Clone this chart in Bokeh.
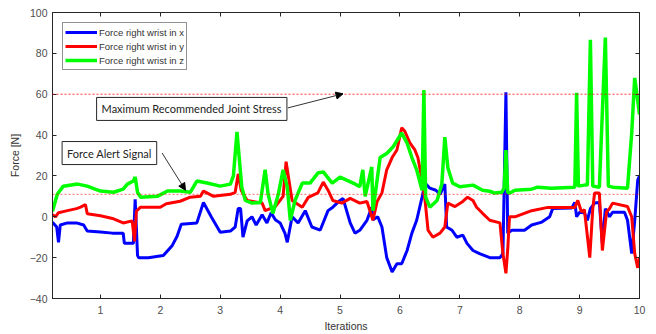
from bokeh.plotting import figure
from bokeh.models import (FixedTicker, LinearAxis, Span, Label, Arrow, NormalHead,
                          Legend, LegendItem)
from bokeh.embed import file_html
from bokeh.resources import INLINE

# ---------------- data ----------------
blue_x = [2000, 2700, 3000, 3300, 4500, 6000, 7200, 7800, 10000, 12000, 13800, 14000,
          15500, 15800, 16200, 16400, 18000, 20500, 22000, 22800, 23500, 26100, 27200,
          28500, 30000, 31700, 32500, 33000, 33400, 33800, 34500, 35300, 36000, 37000,
          37800, 38500, 39200, 40000, 40800, 41200, 42000, 43000, 44200, 45300, 46700,
          48000, 48800, 50000, 50500, 51700, 52500, 53300, 54500, 55300, 55500, 56300,
          57000, 57800, 58700, 59500, 60300, 61200, 62000, 62800, 63700, 64200, 65000,
          66000, 66700, 67500, 67800, 68700, 69500, 70500, 71200, 72200, 73300, 75000,
          76700, 77200, 77700, 78000, 78700, 80800, 82000, 83700, 85000, 85500, 88700,
          89200, 89500, 90000, 90800, 91300, 91800, 92500, 93300, 93800, 94300, 95000,
          95500, 97500, 98000, 98700, 99200, 99700, 100000]
blue_y = [-2.7, -5, -12.5, -4, -3, -3, -4, -7, -7.5, -8, -8, -13,
          -13, 8.5, -19, -20, -20, -19, -14, -9.5, -3.6, -3, 7,
          0, -7.6, -7, -5, 4, 4, -10, -2, 0, -4, 1,
          -3, 2, -1.5, -3, -8, -12.5, 0, -3, 3, -5, -6.5,
          3, 4.7, 8, 9, -3, -8, -6.6, -1.7, 4.7, -1.5, 0,
          -5, -20, -27, -23, -23, -16.5, -8, -1.7, 9.6, 16.5, 14,
          13, 11, 16, -5, -6.6, -10, -9, -13, -16.5, -18, -20,
          -20, -18, 61, -8, -6.6, -6.6, -4, -2.6, 0, 4, 4.3,
          7, 0, 2.2, 2, -1.7, 4, 6.7, 7, -13, 4, 0,
          2.2, 2.2, -1.7, -18, -2, 18, 20]

red_x = [2000, 2500, 3000, 4500, 6000, 6700, 7500, 7800, 10000, 12200, 13800, 15300,
         15700, 16000, 16700, 20000, 21000, 23300, 25000, 26700, 27200, 28900, 31700,
         32500, 33000, 33500, 34500, 37000, 37500, 39200, 40500, 41000, 42000, 43700,
         44700, 46300, 47200, 48000, 48800, 50300, 51700, 53300, 54500, 55500, 56200,
         57000, 57800, 58700, 59500, 60300, 60800, 61700, 62500, 63000, 63700, 64200,
         64700, 65500, 66700, 67500, 68000, 69200, 70500, 71300, 72200, 72800, 73800,
         75000, 76700, 77200, 77700, 78000, 78300, 79200, 82000, 84700, 89200, 89700,
         90300, 90800, 91700, 92200, 92500, 93300, 93800, 94500, 95000, 95500, 98000,
         98700, 99200, 99700, 100000]
red_y = [1, 0, 2, 3, 4, 4.7, 6, 1.5, 0.5, -1, -3, -2,
         -12, 2.7, 4.7, 4.7, 6.4, 7.6, 9.6, 10, 12.6, 10, 11,
         12, 21, 13, 8, 6.7, 3, 5, 10, 27, 8, 4.7,
         9.5, 11.7, 17, 13, 8, 6.7, 9, 6.7, 7.5, -1.7, 7.5,
         11.7, 23, 29, 32.7, 43.5, 42, 36, 32.7, 29, 18, 8,
         -6.6, -10, -8, -5, 6.7, 5, 7.5, 9.6, 8, 4.7, 1.7,
         -1.7, -3, -18, -27.7, -16, 0, 0, 3, 4.6, 4.6, 8,
         2.5, 3.5, -20, 4, 11.6, 11.6, -16.5, 2.5, 4, 6.7, 5,
         0, -18, -25, -20]

green_x = [2000, 2800, 3800, 6200, 7800, 10000, 12200, 13800, 14500, 15500, 15800,
           16200, 16700, 19500, 21200, 23300, 25000, 26100, 27800, 30000, 31700, 32200,
           32800, 33600, 34200, 35300, 36700, 37500, 38000, 38800, 39700, 40500, 41200,
           41700, 42500, 43700, 45000, 46300, 47200, 48700, 50000, 52200, 53300, 53800,
           54200, 55300, 55500, 56700, 57800, 58800, 60300, 61200, 62000, 62800, 63700,
           64000, 64300, 65000, 66200, 67000, 67500, 68000, 68800, 70000, 72200, 73800,
           75000, 75800, 77000, 77400, 77700, 78000, 78300, 79200, 82000, 83000, 85300,
           89200, 89500, 89800, 90800, 91300, 91800, 92200, 93300, 94300, 94800, 95500,
           98000, 98700, 99200, 99700, 100000]
green_y = [2.7, 11, 15, 16, 15, 12.6, 12, 13.5, 16, 17.5, 19.5,
           12, 9.6, 10, 12.6, 12.6, 12, 17.5, 16.5, 15, 16, 20,
           41.6, 14.5, 8, 6.7, 7, 23, 11, 1.7, 11, 23, 14.5,
           -1.7, 8, 16.5, 16.5, 21.4, 22, 16.5, 19.4, 16.5, 14.7, 23,
           10, 24.4, 3, 29, 31, 34, 41, 36, 29, 23, 13,
           62, 9.6, 4.7, 8, 16, 39, 24, 16.5, 14.7, 15.5, 13,
           12.5, 11.6, 12, 14, 32.7, 12, 11.6, 13, 13.5, 14.5, 14,
           14.5, 60.7, 15, 15.5, 15.5, 86.7, 15, 14.5, 87.7, 15, 14.5,
           14, 41, 68, 57, 50]

x_ticks = [10000, 20000, 30000, 40000, 50000, 60000, 70000, 80000, 90000, 100000]
x_tick_labels = ["1", "2", "3", "4", "5", "6", "7", "8", "9", "10"]
y_ticks = [-40, -20, 0, 20, 40, 60, 80, 100]
max_stress = 60
alert_level = 11
series_names = ["Force right wrist in x", "Force right wrist in y", "Force right wrist in z"]

# ---------------- figure ----------------
p = figure(width=656, height=334, x_range=(2000, 100000), y_range=(-40, 100),
           output_backend="svg", toolbar_location=None,
           min_border_left=52, min_border_right=17, min_border_top=12, min_border_bottom=36)
p.xgrid.visible = False
p.ygrid.visible = False
p.outline_line_color = "#262626"
p.background_fill_color = "white"
p.border_fill_color = "white"

tick_color = "#4d4d4d"
for ax in (p.xaxis[0], p.yaxis[0]):
    ax.major_tick_in = 4
    ax.major_tick_out = 0
    ax.minor_tick_in = 0
    ax.minor_tick_out = 0
    ax.axis_line_color = "#262626"
    ax.major_tick_line_color = "#262626"
    ax.major_label_text_color = tick_color
    ax.major_label_text_font = "Liberation Sans"
    ax.major_label_text_font_size = "10.5px"
    ax.axis_label_text_font = "Liberation Sans"
    ax.axis_label_text_font_size = "10.5px"
    ax.axis_label_text_font_style = "normal"
    ax.axis_label_text_color = "#333333"

p.xaxis.ticker = FixedTicker(ticks=x_ticks)
p.xaxis.major_label_overrides = dict(zip(x_ticks, x_tick_labels))
p.xaxis.major_label_standoff = 7
p.xaxis.axis_label = "Iterations"
p.xaxis.axis_label_standoff = 3
p.yaxis.ticker = FixedTicker(ticks=y_ticks)
p.yaxis.major_label_standoff = 5
p.yaxis.axis_label = "Force [N]"
p.yaxis.axis_label_standoff = 6

top = LinearAxis(ticker=FixedTicker(ticks=x_ticks),
                 major_label_overrides={t: "" for t in x_ticks},
                 major_label_text_font_size="1px",
                 major_tick_in=4, major_tick_out=0, minor_tick_in=0, minor_tick_out=0,
                 major_label_standoff=0, axis_line_color="#262626",
                 major_tick_line_color="#262626")
right = LinearAxis(ticker=FixedTicker(ticks=y_ticks),
                   major_label_overrides={t: "" for t in y_ticks},
                   major_label_text_font_size="1px",
                   major_tick_in=4, major_tick_out=0, minor_tick_in=0, minor_tick_out=0,
                   major_label_standoff=0, axis_line_color="#262626",
                   major_tick_line_color="#262626")
p.add_layout(top, "above")
p.add_layout(right, "right")

# threshold lines
p.add_layout(Span(location=max_stress, dimension="width", line_color="red",
                  line_dash="2 2", line_width=1, line_alpha=0.8))
p.add_layout(Span(location=alert_level, dimension="width", line_color="red",
                  line_dash="2 2", line_width=1, line_alpha=0.6))

rb = p.line(blue_x, blue_y, line_color="#0000ff", line_width=3)
rr = p.line(red_x, red_y, line_color="#ff0000", line_width=3)
rg = p.line(green_x, green_y, line_color="#00ff00", line_width=3.5)

legend = Legend(items=[LegendItem(label=series_names[0], renderers=[rb]),
                       LegendItem(label=series_names[1], renderers=[rr]),
                       LegendItem(label=series_names[2], renderers=[rg])],
                location=(10, 228), border_line_color="#262626", border_line_width=1,
                padding=2, spacing=0, margin=0, glyph_width=32, glyph_height=14,
                label_height=14, label_standoff=2,
                label_text_font="Liberation Sans", label_text_font_size="9.5px",
                label_text_color="#333333", background_fill_alpha=1)
p.add_layout(legend, "center")

# annotations
lab_font = "Lato"
p.add_layout(Label(x=25250, y=52.8, text="Maximum Recommended Joint Stress",
                   text_font=lab_font, text_font_size="11px", text_color="#222222",
                   text_align="center", text_baseline="middle",
                   background_fill_color="white", border_line_color="#262626",
                   border_line_width=1, padding=5))
p.add_layout(Arrow(x_start=41300, y_start=53.3, x_end=50500, y_end=60.2,
                   line_color="#333333", line_width=1,
                   end=NormalHead(size=7, fill_color="black", line_color="black")))
p.add_layout(Label(x=11500, y=31.2, text="Force Alert Signal",
                   text_font=lab_font, text_font_size="11px", text_color="#222222",
                   text_align="center", text_baseline="middle",
                   background_fill_color="white", border_line_color="#262626",
                   border_line_width=1, padding=5))
p.add_layout(Arrow(x_start=20300, y_start=31.2, x_end=24200, y_end=13,
                   line_color="#333333", line_width=1,
                   end=NormalHead(size=7, fill_color="black", line_color="black")))
p.add_layout(Label(x=99800, y=-53.5, text="×10⁴", text_font="Liberation Sans",
                   text_font_size="10px", text_color=tick_color,
                   text_align="right", text_baseline="middle"))

open("out.html", "w").write(file_html(p, INLINE))
